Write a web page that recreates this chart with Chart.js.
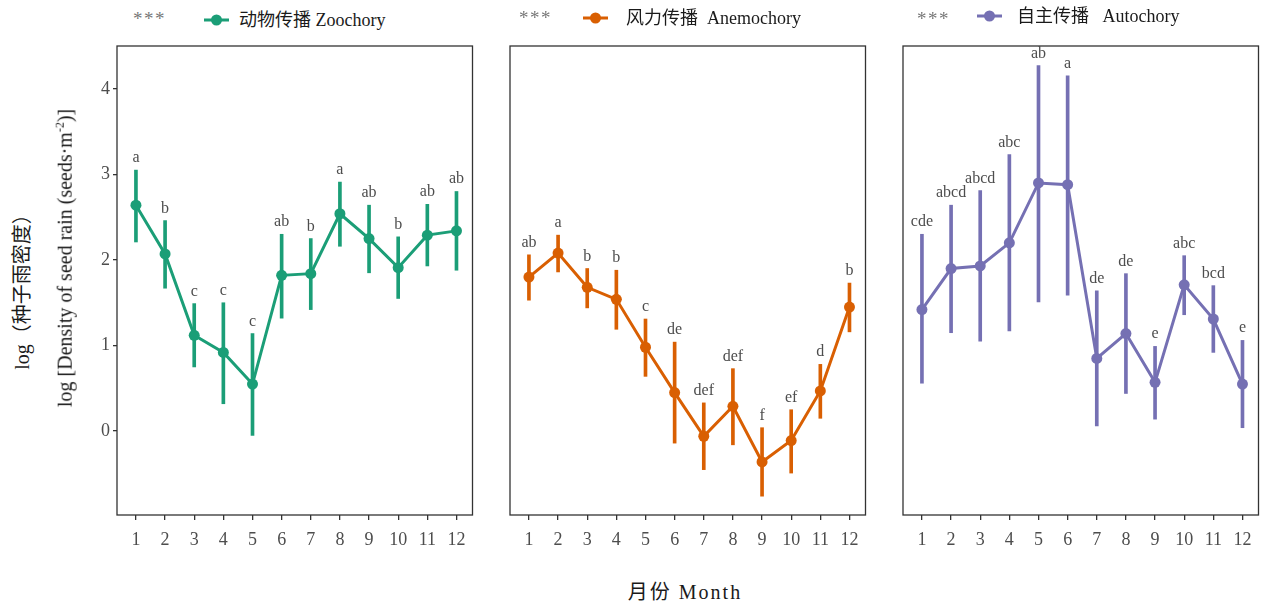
<!DOCTYPE html>
<html><head><meta charset="utf-8">
<script src="https://cdn.jsdelivr.net/npm/chart.js@4.4.0/dist/chart.umd.min.js"></script>
<style>
body{margin:0;width:1264px;height:609px;background:#fff;position:relative;overflow:hidden;font-family:"Liberation Serif","Noto Sans CJK SC",serif;}
canvas{position:absolute;top:30px;}
.t{position:absolute;white-space:pre;line-height:1;}
.stars{position:absolute;font-size:19px;color:#777;line-height:1;transform:translateY(-40%);letter-spacing:1.5px;}
.leg{position:absolute;font-size:18px;color:#1a1a1a;white-space:pre;line-height:1;transform:translateY(-50%);}
.mk{position:absolute;height:3px;width:25px;transform:translateY(-50%);}
.mk i{position:absolute;left:7px;top:-4px;width:11px;height:11px;border-radius:50%;background:inherit;}
.rot{position:absolute;white-space:nowrap;font-size:20px;color:#1a1a1a;line-height:1;transform:translate(-50%,-50%) rotate(-90deg);}
</style></head><body>
<canvas id="c1" width="411" height="530" style="left:67px"></canvas>
<canvas id="c2" width="411" height="530" style="left:460px"></canvas>
<canvas id="c3" width="411" height="530" style="left:853px"></canvas>

<div class="stars" style="left:133px;top:17px">***</div>
<div class="mk" style="left:204px;top:20px;background:#1b9e77"><i></i></div>
<div class="leg" style="left:239px;top:20px">动物传播 Zoochory</div>

<div class="stars" style="left:519px;top:16px">***</div>
<div class="mk" style="left:583px;top:18px;background:#d95f02"><i></i></div>
<div class="leg" style="left:626px;top:18px">风力传播  Anemochory</div>

<div class="stars" style="left:917px;top:17px">***</div>
<div class="mk" style="left:977px;top:16px;background:#7570b3"><i></i></div>
<div class="leg" style="left:1017px;top:16px">自主传播   Autochory</div>

<div class="rot" style="left:22px;top:287px">log（种子雨密度）</div>
<div class="rot" style="left:64px;top:258px">log [Density of seed rain (seeds·m<sup style="font-size:12px">-2</sup>)]</div>
<div class="t" style="left:685px;top:592px;transform:translate(-50%,-50%);font-size:20px;letter-spacing:2px;color:#1a1a1a">月份 Month</div>

<script>
const months = [1,2,3,4,5,6,7,8,9,10,11,12];
const yTicks = [0,1,2,3,4];

const zooMean = [2.64,2.07,1.12,0.92,0.55,1.82,1.84,2.54,2.25,1.91,2.29,2.34];
const zooLow  = [2.21,1.67,0.75,0.32,-0.05,1.32,1.42,2.16,1.85,1.55,1.93,1.88];
const zooHigh = [3.05,2.46,1.49,1.50,1.14,2.30,2.25,2.91,2.64,2.27,2.65,2.80];
const zooLetters = ['a','b','c','c','c','ab','b','a','ab','b','ab','ab'];

const aneMean = [1.80,2.08,1.68,1.54,0.98,0.45,-0.06,0.29,-0.36,-0.11,0.47,1.45];
const aneLow  = [1.53,1.86,1.44,1.19,0.64,-0.14,-0.45,-0.16,-0.76,-0.49,0.15,1.16];
const aneHigh = [2.06,2.29,1.90,1.88,1.31,1.04,0.33,0.73,0.04,0.25,0.78,1.73];
const aneLetters = ['ab','a','b','b','c','de','def','def','f','ef','d','b'];

const autMean = [1.42,1.90,1.93,2.20,2.90,2.88,0.85,1.14,0.57,1.71,1.31,0.55];
const autLow  = [0.56,1.15,1.05,1.17,1.51,1.59,0.06,0.44,0.14,1.36,0.92,0.04];
const autHigh = [2.30,2.64,2.81,3.23,4.27,4.15,1.64,1.84,0.99,2.05,1.70,1.06];
const autLetters = ['cde','abcd','abcd','abc','ab','a','de','de','e','abc','bcd','e'];

const FONT = '"Liberation Serif","Noto Sans CJK SC",serif';

const boxPlugin = {
  id: 'box',
  afterDatasetsDraw(chart, args, opts) {
    const {ctx, chartArea: a} = chart;
    ctx.save();
    ctx.strokeStyle = '#333';
    ctx.lineWidth = 1.3;
    ctx.strokeRect(a.left, a.top, a.right - a.left, a.bottom - a.top);
    ctx.fillStyle = '#4d4d4d';
    ctx.font = '16px ' + FONT;
    ctx.textAlign = 'center';
    ctx.textBaseline = 'alphabetic';
    opts.letters.forEach((l, i) => {
      const x = chart.scales.x.getPixelForValue(months[i]);
      const y = chart.scales.y.getPixelForValue(opts.high[i]) - 8;
      ctx.fillText(l, x, y);
    });
    ctx.restore();
  }
};

function makeChart(id, color, mean, low, high, letters, showY) {
  new Chart(document.getElementById(id), {
    type: 'line',
    data: {
      datasets: [
        {type: 'line', data: months.map((m, i) => ({x: m, y: mean[i]})),
         borderColor: color, backgroundColor: color, borderWidth: 3,
         pointRadius: 5.5, pointHoverRadius: 5.5, pointBorderWidth: 0, tension: 0, order: 0, clip: false},
        {type: 'bar', data: months.map((m, i) => ({x: m, y: [low[i], high[i]]})),
         backgroundColor: color, borderWidth: 0, barThickness: 3, grouped: false, order: 1, clip: false}
      ]
    },
    options: {
      responsive: false, animation: false, events: [],
      plugins: {legend: {display: false}, tooltip: {enabled: false}, box: {letters, high}},
      layout: {padding: {top: 16, right: 5, bottom: 5, left: 0}},
      scales: {
        x: {
          type: 'linear', min: 0.35, max: 12.55, offset: false,
          afterBuildTicks: s => { s.ticks = months.map(v => ({value: v})); },
          afterFit: s => { s.height = 40; },
          grid: {offset: false, drawOnChartArea: false, drawTicks: true, tickLength: 5, color: '#333', lineWidth: 1.3},
          border: {display: false},
          ticks: {color: '#4d4d4d', font: {family: FONT, size: 18}, padding: 9, maxRotation: 0, autoSkip: false,
                  callback: v => String(v)}
        },
        y: {
          display: showY, min: -0.98, max: 4.5,
          afterBuildTicks: s => { s.ticks = yTicks.map(v => ({value: v})); },
          afterFit: s => { s.width = 50; },
          grid: {drawOnChartArea: false, drawTicks: true, tickLength: 4, color: '#333', lineWidth: 1.3},
          border: {display: false},
          ticks: {color: '#4d4d4d', font: {family: FONT, size: 18}, padding: 3, callback: v => String(v)}
        }
      }
    },
    plugins: [boxPlugin]
  });
}

makeChart('c1', '#1b9e77', zooMean, zooLow, zooHigh, zooLetters, true);
makeChart('c2', '#d95f02', aneMean, aneLow, aneHigh, aneLetters, false);
makeChart('c3', '#7570b3', autMean, autLow, autHigh, autLetters, false);
</script>
</body></html>
